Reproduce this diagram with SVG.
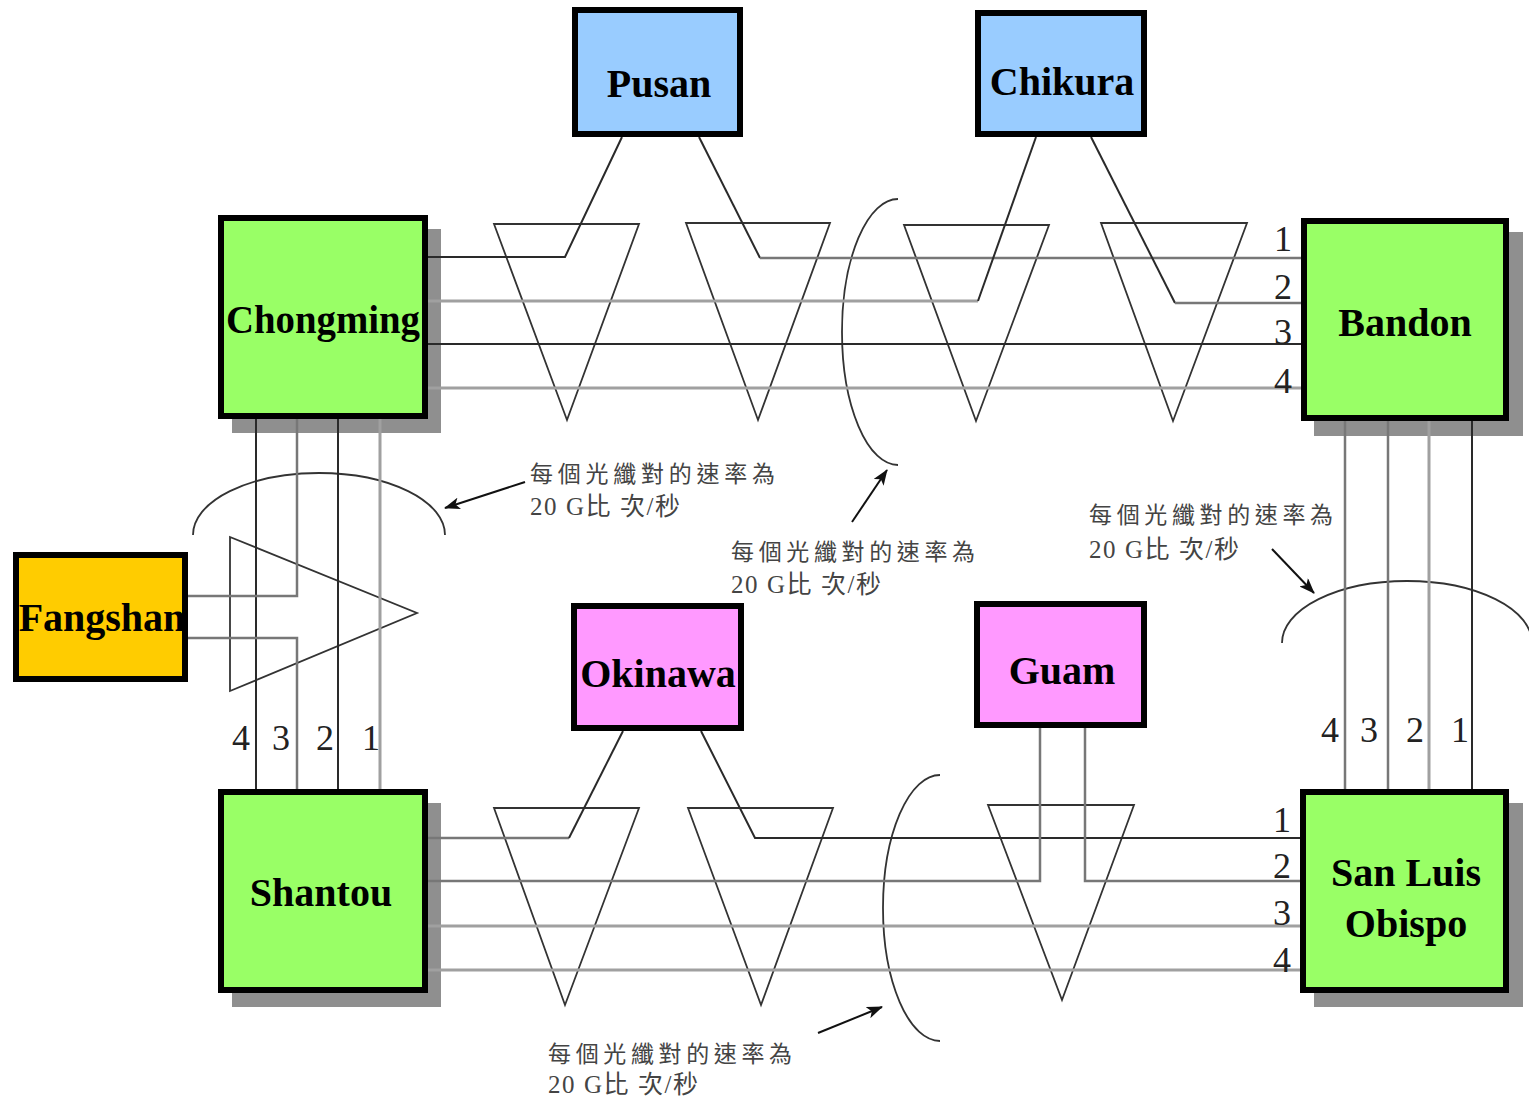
<svg xmlns="http://www.w3.org/2000/svg" width="1529" height="1100" viewBox="0 0 1529 1100">
<style>
.shadow{fill:#8f8f8f}
.box{stroke:#000;stroke-width:6}
.green{fill:#99ff66}
.blue{fill:#99ccff}
.pink{fill:#ff99ff}
.orange{fill:#ffcc00}
.lbl{font-family:'Liberation Serif',serif;font-weight:bold;font-size:40px;fill:#000;text-anchor:middle}
.num{font-family:'Liberation Serif',serif;font-size:36px;fill:#222;text-anchor:middle}
.note{font-family:'Liberation Serif','Noto Sans CJK TC',serif;font-size:23px;fill:#444}
.note2{font-family:'Liberation Serif','Noto Sans CJK TC',serif;font-size:25px;fill:#444}
.tri{fill:none;stroke:#333;stroke-width:1.8;stroke-linejoin:miter}
.arc{fill:none;stroke:#333;stroke-width:1.8}
.dk{fill:none;stroke:#2a2a2a;stroke-width:2}
.md{fill:none;stroke:#777;stroke-width:2.5}
.lt{fill:none;stroke:#a0a0a0;stroke-width:3}
.arrow{stroke:#111;stroke-width:2;fill:none}
</style>
<defs>
<marker id="ah" viewBox="0 0 16 12" refX="15" refY="6" markerWidth="16" markerHeight="12" markerUnits="userSpaceOnUse" orient="auto">
<path d="M0,0 L16,6 L0,12 L4,6 z" fill="#111"/>
</marker>
</defs>

<g id="shadows">
<rect class="shadow" x="232" y="229" width="209" height="204"/>
<rect class="shadow" x="1314" y="232" width="209" height="204"/>
<rect class="shadow" x="232" y="803" width="209" height="204"/>
<rect class="shadow" x="1314" y="803" width="209" height="204"/>
</g>

<g id="couplers">
<polygon class="tri" points="494,224 639,224 567,420"/>
<polygon class="tri" points="686,223 830,223 758,420"/>
<polygon class="tri" points="904,225 1049,225 976,421"/>
<polygon class="tri" points="1101,223 1247,223 1173,421"/>
<polygon class="tri" points="494,808 639,808 565,1005"/>
<polygon class="tri" points="688,808 833,808 761,1005"/>
<polygon class="tri" points="988,805 1134,805 1062,1000"/>
<polygon class="tri" points="230,537 417,613 230,691"/>
<path class="arc" d="M898,199 A56,133 0 0 0 898,465"/>
<path class="arc" d="M940,775 A57,133 0 0 0 940,1041"/>
<path class="arc" d="M193,535 A126,62 0 0 1 445,535"/>
<path class="arc" d="M1282,643 A125,62 0 0 1 1532,643"/>
</g>

<g id="connectors">
<polyline class="dk" points="428,257 565,257 622,137"/>
<polyline class="dk" points="699,137 760,258"/>
<line class="md" x1="760" y1="258" x2="1301" y2="258"/>
<line class="lt" x1="428" y1="301" x2="978" y2="301"/>
<line class="dk" x1="978" y1="301" x2="1036" y2="137"/>
<line class="dk" x1="1091" y1="137" x2="1175" y2="303"/>
<line class="md" x1="1175" y1="303" x2="1301" y2="303"/>
<line class="dk" x1="428" y1="344" x2="1301" y2="344"/>
<line class="lt" x1="428" y1="388" x2="1301" y2="388"/>

<line class="dk" x1="256" y1="419" x2="256" y2="789"/>
<polyline class="md" points="297,419 297,596 188,596"/>
<polyline class="md" points="188,638 297,638 297,789"/>
<line class="dk" x1="338" y1="419" x2="338" y2="789"/>
<line class="lt" x1="380" y1="419" x2="380" y2="789"/>

<line class="md" x1="1345" y1="421" x2="1345" y2="789"/>
<line class="md" x1="1388" y1="421" x2="1388" y2="789"/>
<line class="lt" x1="1429" y1="421" x2="1429" y2="789"/>
<line class="dk" x1="1472" y1="421" x2="1472" y2="789"/>

<line class="md" x1="428" y1="838" x2="569" y2="838"/>
<line class="dk" x1="569" y1="838" x2="623" y2="731"/>
<polyline class="dk" points="701,731 755,838 1301,838"/>
<polyline class="md" points="428,881 1040,881 1040,728"/>
<polyline class="md" points="1085,728 1085,881 1301,881"/>
<line class="lt" x1="428" y1="926" x2="1301" y2="926"/>
<line class="lt" x1="428" y1="970" x2="1301" y2="970"/>

<line class="arrow" x1="525" y1="482" x2="445" y2="508" marker-end="url(#ah)"/>
<line class="arrow" x1="852" y1="522" x2="887" y2="470" marker-end="url(#ah)"/>
<line class="arrow" x1="1272" y1="549" x2="1314" y2="593" marker-end="url(#ah)"/>
<line class="arrow" x1="818" y1="1033" x2="882" y2="1007" marker-end="url(#ah)"/>
</g>

<g id="Chongming"><rect class="box green" x="221" y="218" width="204" height="198"/><text class="lbl" x="323" y="333" textLength="194" lengthAdjust="spacingAndGlyphs">Chongming</text></g>
<g id="Bandon"><rect class="box green" x="1304" y="221" width="202" height="197"/><text class="lbl" x="1405" y="336">Bandon</text></g>
<g id="Shantou"><rect class="box green" x="221" y="792" width="204" height="198"/><text class="lbl" x="321" y="906">Shantou</text></g>
<g id="SanLuisObispo"><rect class="box green" x="1303" y="792" width="203" height="198"/><text class="lbl" x="1406" y="886">San Luis</text><text class="lbl" x="1406" y="937">Obispo</text></g>
<g id="Fangshan"><rect class="box orange" x="16" y="555" width="169" height="124"/><text class="lbl" x="102" y="631">Fangshan</text></g>
<g id="Pusan"><rect class="box blue" x="575" y="10" width="165" height="124"/><text class="lbl" x="659" y="97">Pusan</text></g>
<g id="Chikura"><rect class="box blue" x="978" y="13" width="166" height="121"/><text class="lbl" x="1062" y="95">Chikura</text></g>
<g id="Okinawa"><rect class="box pink" x="574" y="606" width="167" height="122"/><text class="lbl" x="658" y="687">Okinawa</text></g>
<g id="Guam"><rect class="box pink" x="977" y="604" width="167" height="121"/><text class="lbl" x="1062" y="684">Guam</text></g>

<g id="fiber-numbers">
<text class="num" x="241" y="750">4</text><text class="num" x="281" y="750">3</text><text class="num" x="325" y="750">2</text><text class="num" x="371" y="750">1</text>
<text class="num" x="1330" y="742">4</text><text class="num" x="1369" y="742">3</text><text class="num" x="1415" y="742">2</text><text class="num" x="1460" y="742">1</text>
<text class="num" x="1283" y="251">1</text><text class="num" x="1283" y="299">2</text><text class="num" x="1283" y="344">3</text><text class="num" x="1283" y="393">4</text>
<text class="num" x="1282" y="832">1</text><text class="num" x="1282" y="878">2</text><text class="num" x="1282" y="925">3</text><text class="num" x="1282" y="972">4</text>
</g>

<g id="notes">
<text class="note" x="530" y="482" textLength="245">每個光纖對的速率為</text>
<text class="note2" x="530" y="515" textLength="150">20 G比 次/秒</text>
<text class="note" x="731" y="560" textLength="244">每個光纖對的速率為</text>
<text class="note2" x="731" y="593" textLength="150">20 G比 次/秒</text>
<text class="note" x="1089" y="523" textLength="244">每個光纖對的速率為</text>
<text class="note2" x="1089" y="558" textLength="150">20 G比 次/秒</text>
<text class="note" x="548" y="1062" textLength="244">每個光纖對的速率為</text>
<text class="note2" x="548" y="1093" textLength="150">20 G比 次/秒</text>
</g>
</svg>
